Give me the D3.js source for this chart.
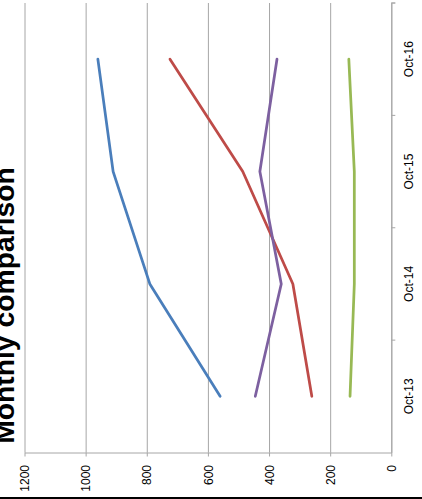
<!DOCTYPE html>
<html>
<head>
<meta charset="utf-8">
<script src="https://cdn.jsdelivr.net/npm/d3@7"></script>
<style>
  body { margin: 0; background: #fff; }
  svg { display: block; font-family: "Liberation Sans", Arial, sans-serif; }
</style>
</head>
<body>
<div id="chart"></div>
<script>
var months = ["Oct-13", "Oct-14", "Oct-15", "Oct-16"];
var seriesBlue = [560, 790, 910, 960];
var seriesRed = [260, 322, 486, 724];
var seriesPurple = [445, 360, 430, 374];
var seriesGreen = [135, 121, 121, 139];
var valueTicks = [0, 200, 400, 600, 800, 1000, 1200];
var title = "Monthly comparison";

var svgWidth = 422;
var svgHeight = 499;

var plot = {
  left: 24.5,
  right: 391.3,
  top: 3,
  bottom: 452.5
};

var svg = d3.select("#chart")
  .append("svg")
  .attr("width", svgWidth)
  .attr("height", svgHeight);

// values run right-to-left, months bottom-to-top (chart turned on its side)
var xScale = d3.scaleLinear()
  .domain([0, 1200])
  .range([plot.right, plot.left]);

var yScale = d3.scaleBand()
  .domain(months)
  .range([plot.bottom, plot.top]);

var gridColor = "#a6a6a6";

// gridlines
svg.append("g")
  .attr("transform", `translate(0, ${plot.bottom})`)
  .call(d3.axisBottom(xScale)
    .tickValues(valueTicks)
    .tickSize(-(plot.bottom - plot.top))
    .tickFormat(""))
  .call(g => g.select(".domain").remove())
  .call(g => g.selectAll("line").attr("stroke", gridColor).attr("stroke-width", 1));

// value axis with outside ticks
var valueAxis = svg.append("g")
  .attr("transform", `translate(0, ${plot.bottom})`)
  .call(d3.axisBottom(xScale)
    .tickValues(valueTicks)
    .tickSizeInner(4)
    .tickSizeOuter(0)
    .tickFormat(d3.format("d")));

valueAxis.select(".domain").attr("stroke", gridColor);
valueAxis.selectAll("line").attr("stroke", gridColor);
valueAxis.selectAll("text")
  .attr("transform", "rotate(-90)")
  .attr("x", -12.5)
  .attr("y", 0)
  .attr("dy", "0.35em")
  .attr("text-anchor", "end")
  .attr("font-size", "12px")
  .attr("fill", "#000");

// category axis
var catAxis = svg.append("g")
  .attr("transform", `translate(${plot.right}, 0)`)
  .call(d3.axisRight(yScale).tickSize(0).tickPadding(0));

catAxis.select(".domain").attr("stroke", gridColor);
catAxis.selectAll("text")
  .attr("transform", d => `translate(22, ${yScale(d) + yScale.bandwidth() / 2}) rotate(-90)`)
  .attr("x", 0)
  .attr("y", 0)
  .attr("dy", 0)
  .attr("text-anchor", "middle")
  .attr("font-size", "12px")
  .attr("fill", "#000");
catAxis.selectAll(".tick").attr("transform", null);

// tick marks on the band edges
var edges = months.map(m => yScale(m)).concat([plot.top]);
catAxis.selectAll(".edge")
  .data(edges)
  .enter()
  .append("line")
  .attr("class", "edge")
  .attr("x1", 0)
  .attr("x2", 4)
  .attr("y1", d => d)
  .attr("y2", d => d)
  .attr("stroke", gridColor);

// lines
var allSeries = [
  { values: seriesBlue, color: "#4a7ebb" },
  { values: seriesRed, color: "#be4b48" },
  { values: seriesPurple, color: "#7d60a0" },
  { values: seriesGreen, color: "#98b954" }
];

var line = d3.line()
  .x(d => xScale(d.value))
  .y(d => yScale(d.month) + yScale.bandwidth() / 2);

svg.append("g")
  .selectAll("path")
  .data(allSeries)
  .enter()
  .append("path")
  .attr("d", s => line(s.values.map((v, i) => ({ month: months[i], value: v }))))
  .attr("fill", "none")
  .attr("stroke", s => s.color)
  .attr("stroke-width", 2.75)
  .attr("stroke-linejoin", "round")
  .attr("stroke-linecap", "round");

// title, partly outside the frame
svg.append("text")
  .attr("transform", "translate(14, 305.5) rotate(-90)")
  .attr("text-anchor", "middle")
  .attr("font-size", "28.3px")
  .attr("font-weight", "bold")
  .attr("fill", "#000")
  .text(title);

// bottom edge of the chart frame
svg.append("line")
  .attr("x1", 0)
  .attr("x2", svgWidth)
  .attr("y1", 498)
  .attr("y2", 498)
  .attr("stroke", "#000")
  .attr("stroke-width", 2);
</script>
</body>
</html>
